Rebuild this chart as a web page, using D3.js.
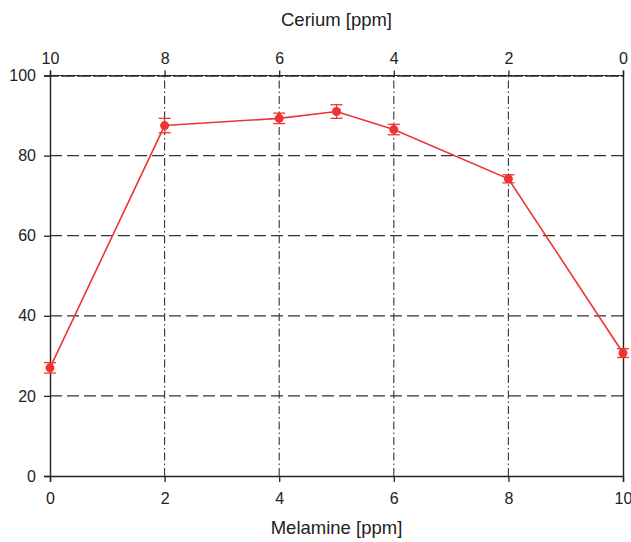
<!DOCTYPE html>
<html><head><meta charset="utf-8">
<script src="https://cdn.jsdelivr.net/npm/d3@7"></script>
<style>body{margin:0;background:#fff;} text{font-family:Arial,"Liberation Sans",sans-serif;}</style>
</head><body>
<script>
const melamine = [0, 2, 4, 5, 6, 8, 10];
const efficiency = [27, 87.5, 89.3, 91, 86.5, 74.2, 30.7];
const errors = [1.3, 1.8, 1.3, 1.7, 1.3, 1.0, 1.1];
const bottomTicks = [0, 2, 4, 6, 8, 10];
const topTicks = [10, 8, 6, 4, 2, 0];
const yTicks = [0, 20, 40, 60, 80, 100];
const xTitle = "Melamine [ppm]";
const topTitle = "Cerium [ppm]";

const W = 631, H = 542;
const m = {left: 50, right: 8, top: 75.5, bottom: 66};
const svg = d3.select("body").append("svg").attr("width", W).attr("height", H);
const x = d3.scaleLinear().domain([0, 10]).range([m.left, W - m.right]);
const xTop = d3.scaleLinear().domain([10, 0]).range([m.left, W - m.right]);
const y = d3.scaleLinear().domain([0, 100]).range([H - m.bottom, m.top]);
const red = "#ee3434";

// grid horizontal
svg.append("g").selectAll("line").data(yTicks.filter(d => d > 0))
  .join("line")
  .attr("x1", x(0)).attr("x2", x(10))
  .attr("y1", d => y(d)).attr("y2", d => y(d))
  .attr("stroke", "#333").attr("stroke-width", 1.2)
  .attr("stroke-dasharray", d => d === 100 ? "14,2" : "12,5");
// grid vertical
svg.append("g").selectAll("line").data(bottomTicks.filter(d => d > 0 && d < 10))
  .join("line")
  .attr("x1", d => x(d)).attr("x2", d => x(d))
  .attr("y1", y(0)).attr("y2", y(100))
  .attr("stroke", "#333").attr("stroke-width", 1.1)
  .attr("stroke-dasharray", "8,3,1.5,3");

// axes
const fs = "16px";
const ax = svg.append("g").attr("transform", `translate(0,${y(0)})`)
  .call(d3.axisBottom(x).tickValues(bottomTicks).tickSize(6).tickPadding(11).tickFormat(d3.format("d")));
const at = svg.append("g").attr("transform", `translate(0,${y(100)})`)
  .call(d3.axisTop(xTop).tickValues(topTicks).tickSize(5).tickPadding(7).tickFormat(d3.format("d")));
const ay = svg.append("g").attr("transform", `translate(${x(0)},0)`)
  .call(d3.axisLeft(y).tickValues(yTicks).tickSize(6).tickPadding(8).tickFormat(d3.format("d")));
const ar = svg.append("g").attr("transform", `translate(${x(10)},0)`)
  .call(d3.axisRight(y).tickValues([]).tickSize(0));
[ax, at, ay, ar].forEach(g => {
  g.selectAll("text").style("font-size", fs).attr("fill", "#222")
   .style("font-family", "Arial, 'Liberation Sans', sans-serif");
  g.selectAll("line").attr("stroke", "#222").attr("stroke-width", 1.3);
  g.select(".domain").attr("stroke", "#222").attr("stroke-width", 1.4);
});
at.select(".domain").attr("stroke-dasharray", "14,2");

// titles
svg.append("text").attr("x", (x(0) + x(10)) / 2).attr("y", 26)
  .attr("text-anchor", "middle").style("font-size", "18.5px").attr("fill", "#222").text(topTitle);
svg.append("text").attr("x", (x(0) + x(10)) / 2).attr("y", 534)
  .attr("text-anchor", "middle").style("font-size", "18.5px").attr("fill", "#222").text(xTitle);

// data
const pts = melamine.map((d, i) => ({x: d, y: efficiency[i], e: errors[i]}));
svg.append("path").datum(pts)
  .attr("fill", "none").attr("stroke", red).attr("stroke-width", 1.6)
  .attr("d", d3.line().x(d => x(d.x)).y(d => y(d.y)));
const eb = svg.append("g").attr("stroke", red).attr("stroke-width", 1.3);
pts.forEach(p => {
  eb.append("line").attr("x1", x(p.x)).attr("x2", x(p.x)).attr("y1", y(p.y - p.e)).attr("y2", y(p.y + p.e));
  eb.append("line").attr("x1", x(p.x) - 6).attr("x2", x(p.x) + 6).attr("y1", y(p.y - p.e)).attr("y2", y(p.y - p.e));
  eb.append("line").attr("x1", x(p.x) - 6).attr("x2", x(p.x) + 6).attr("y1", y(p.y + p.e)).attr("y2", y(p.y + p.e));
});
svg.append("g").selectAll("circle").data(pts).join("circle")
  .attr("cx", d => x(d.x)).attr("cy", d => y(d.y)).attr("r", 4.5).attr("fill", red);
</script>
</body></html>
